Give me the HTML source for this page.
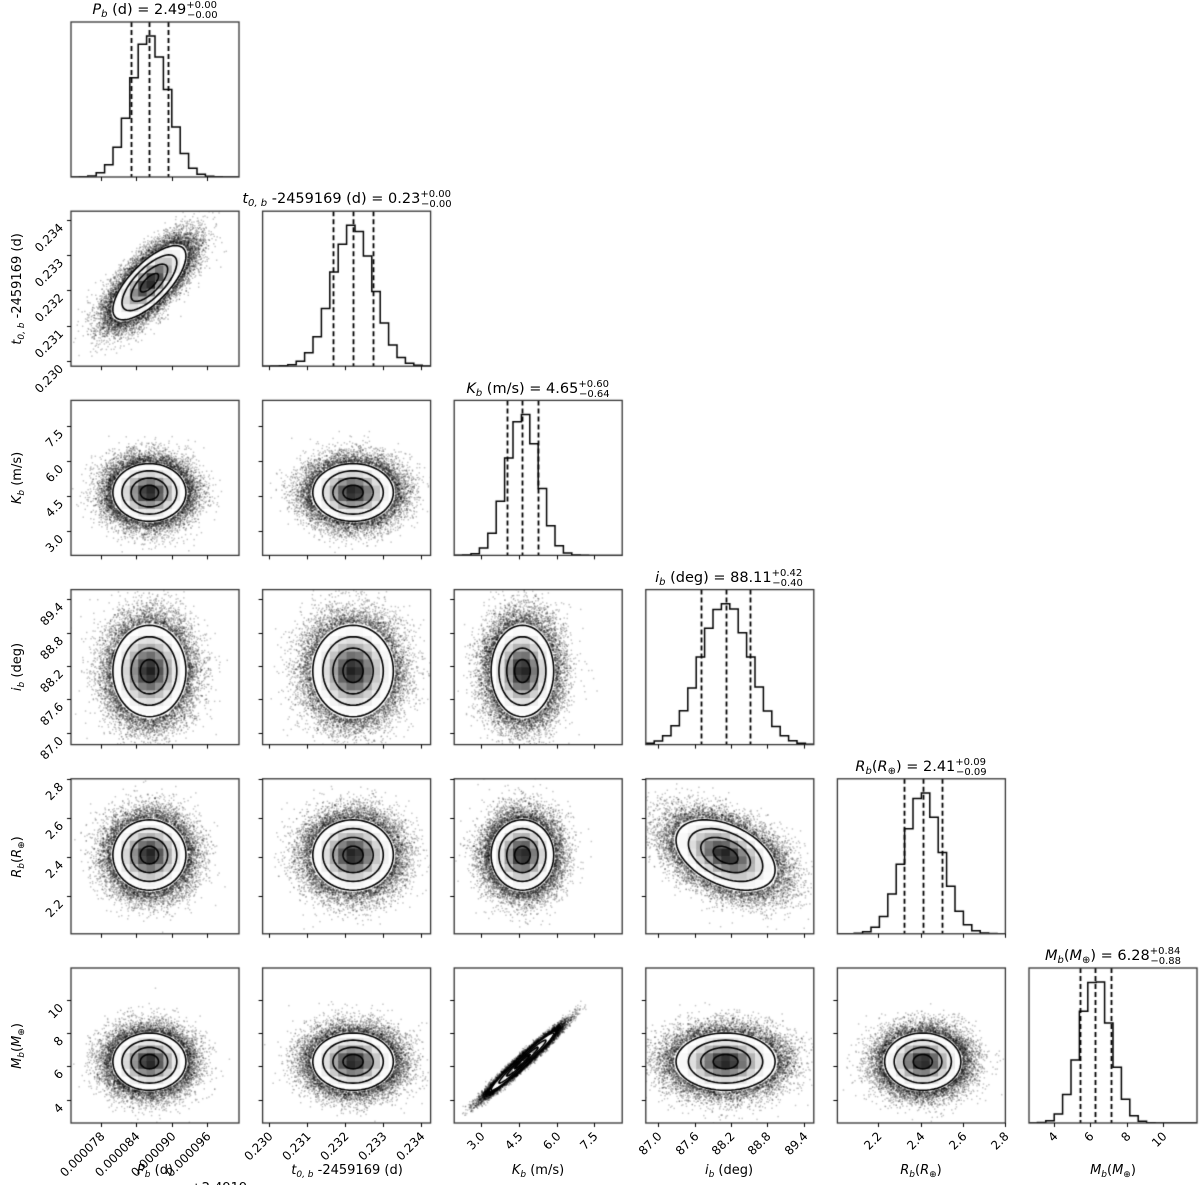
<!DOCTYPE html>
<html><head><meta charset="utf-8">
<style>
html,body{margin:0;padding:0;background:#fff;}
#wrap{position:relative;width:1200px;height:1185px;overflow:hidden;}
canvas,svg{position:absolute;left:0;top:0;}
svg text{font-family:"DejaVu Sans","Liberation Sans",sans-serif;fill:#000;}
</style></head><body>
<div id="wrap">
<canvas id="c" width="1200" height="1185"></canvas>
<svg id="s" width="1200" height="1185" xmlns="http://www.w3.org/2000/svg">
<g font-size="14.5" text-anchor="middle">
<text x="155" y="14"><tspan font-style="italic">P</tspan><tspan font-size="10" font-style="italic" dy="3">b</tspan><tspan dy="-3"> (d) = 2.49</tspan><tspan font-size="10" dy="-6">+0.00</tspan><tspan font-size="10" dx="-30" dy="10">−0.00</tspan></text>
<text x="347" y="203"><tspan font-style="italic">t</tspan><tspan font-size="10" font-style="italic" dy="3">0, b</tspan><tspan dy="-3"> -2459169 (d) = 0.23</tspan><tspan font-size="10" dy="-6">+0.00</tspan><tspan font-size="10" dx="-30" dy="10">−0.00</tspan></text>
<text x="538" y="393"><tspan font-style="italic">K</tspan><tspan font-size="10" font-style="italic" dy="3">b</tspan><tspan dy="-3"> (m/s) = 4.65</tspan><tspan font-size="10" dy="-6">+0.60</tspan><tspan font-size="10" dx="-30" dy="10">−0.64</tspan></text>
<text x="729" y="582"><tspan font-style="italic">i</tspan><tspan font-size="10" font-style="italic" dy="3">b</tspan><tspan dy="-3"> (deg) = 88.11</tspan><tspan font-size="10" dy="-6">+0.42</tspan><tspan font-size="10" dx="-30" dy="10">−0.40</tspan></text>
<text x="921" y="771"><tspan font-style="italic">R</tspan><tspan font-size="10" font-style="italic" dy="3">b</tspan><tspan dy="-3">(</tspan><tspan font-style="italic">R</tspan><tspan font-size="10" dy="3">⊕</tspan><tspan dy="-3">) = 2.41</tspan><tspan font-size="10" dy="-6">+0.09</tspan><tspan font-size="10" dx="-30" dy="10">−0.09</tspan></text>
<text x="1113" y="960"><tspan font-style="italic">M</tspan><tspan font-size="10" font-style="italic" dy="3">b</tspan><tspan dy="-3">(</tspan><tspan font-style="italic">M</tspan><tspan font-size="10" dy="3">⊕</tspan><tspan dy="-3">) = 6.28</tspan><tspan font-size="10" dy="-6">+0.84</tspan><tspan font-size="10" dx="-30" dy="10">−0.88</tspan></text>
</g>
<g font-size="13" text-anchor="middle">
<text x="155" y="1174"><tspan font-style="italic">P</tspan><tspan font-size="9" font-style="italic" dy="3">b</tspan><tspan dy="-3"> (d)</tspan></text>
<text x="219" y="1192">+2.4919</text>
<text x="347" y="1174"><tspan font-style="italic">t</tspan><tspan font-size="9" font-style="italic" dy="3">0, b</tspan><tspan dy="-3"> -2459169 (d)</tspan></text>
<text x="538" y="1174"><tspan font-style="italic">K</tspan><tspan font-size="9" font-style="italic" dy="3">b</tspan><tspan dy="-3"> (m/s)</tspan></text>
<text x="729" y="1174"><tspan font-style="italic">i</tspan><tspan font-size="9" font-style="italic" dy="3">b</tspan><tspan dy="-3"> (deg)</tspan></text>
<text x="921" y="1174"><tspan font-style="italic">R</tspan><tspan font-size="9" font-style="italic" dy="3">b</tspan><tspan dy="-3">(</tspan><tspan font-style="italic">R</tspan><tspan font-size="9" dy="3">⊕</tspan><tspan dy="-3">)</tspan></text>
<text x="1113" y="1174"><tspan font-style="italic">M</tspan><tspan font-size="9" font-style="italic" dy="3">b</tspan><tspan dy="-3">(</tspan><tspan font-style="italic">M</tspan><tspan font-size="9" dy="3">⊕</tspan><tspan dy="-3">)</tspan></text>
</g>
<g font-size="13" text-anchor="middle">
<text transform="translate(21,289) rotate(-90)"><tspan font-style="italic">t</tspan><tspan font-size="9" font-style="italic" dy="3">0, b</tspan><tspan dy="-3"> -2459169 (d)</tspan></text>
<text transform="translate(21,478) rotate(-90)"><tspan font-style="italic">K</tspan><tspan font-size="9" font-style="italic" dy="3">b</tspan><tspan dy="-3"> (m/s)</tspan></text>
<text transform="translate(21,667) rotate(-90)"><tspan font-style="italic">i</tspan><tspan font-size="9" font-style="italic" dy="3">b</tspan><tspan dy="-3"> (deg)</tspan></text>
<text transform="translate(21,857) rotate(-90)"><tspan font-style="italic">R</tspan><tspan font-size="9" font-style="italic" dy="3">b</tspan><tspan dy="-3">(</tspan><tspan font-style="italic">R</tspan><tspan font-size="9" dy="3">⊕</tspan><tspan dy="-3">)</tspan></text>
<text transform="translate(21,1046) rotate(-90)"><tspan font-style="italic">M</tspan><tspan font-size="9" font-style="italic" dy="3">b</tspan><tspan dy="-3">(</tspan><tspan font-style="italic">M</tspan><tspan font-size="9" dy="3">⊕</tspan><tspan dy="-3">)</tspan></text>
</g>
<g id="ticklabels" font-size="12"></g>
</svg>
</div>
<script>
(function(){
var W=168,H=155;
function cx(j){return 71+j*191.6;}
function ry(i){return 22+i*189.2;}
var P=[
 {lo:0.0000729,hi:0.0001014,m:0.0000862,s:0.0000031,t:[0.000078,0.000084,0.000090,0.000096],f:function(v){return v.toFixed(6);}},
 {lo:0.22984,hi:0.23426,m:0.23222,s:0.00053,t:[0.230,0.231,0.232,0.233,0.234],f:function(v){return v.toFixed(3);}},
 {lo:1.95,hi:8.6,m:4.65,s:0.62,t:[3.0,4.5,6.0,7.5],f:function(v){return v.toFixed(1);}},
 {lo:86.79,hi:89.57,m:88.11,s:0.41,t:[87.0,87.6,88.2,88.8,89.4],f:function(v){return v.toFixed(1);}},
 {lo:2.007,hi:2.80,m:2.41,s:0.09,t:[2.2,2.4,2.6,2.8],f:function(v){return v.toFixed(1);}},
 {lo:2.6,hi:11.9,m:6.28,s:0.86,t:[4,6,8,10],f:function(v){return String(v);}}
];
function corr(a,b){var k=a<b?a+'_'+b:b+'_'+a;return {'0_1':0.72,'2_5':0.975,'3_4':-0.42}[k]||0.0;}
var c=document.getElementById('c').getContext('2d');
c.fillStyle='#fff';c.fillRect(0,0,1200,1185);
var seed=12345;function rnd(){seed|=0;seed=seed+0x6D2B79F5|0;var t=Math.imul(seed^seed>>>15,1|seed);t=t+Math.imul(t^t>>>7,61|t)^t;return((t^t>>>14)>>>0)/4294967296;}
function gn(){var u=rnd()||1e-9,v=rnd();return Math.sqrt(-2*Math.log(u))*Math.cos(2*Math.PI*v);}
function erf(x){var s=x<0?-1:1;x=Math.abs(x);var t=1/(1+0.3275911*x);var y=1-(((((1.061405429*t-1.453152027)*t)+1.421413741)*t-0.284496736)*t+0.254829592)*t*Math.exp(-x*x);return s*y;}
function cdf(x){return 0.5*(1+erf(x/Math.SQRT2));}
var svgNS="http://www.w3.org/2000/svg",TL=document.getElementById('ticklabels');
function txt(x,y,s){var t=document.createElementNS(svgNS,'text');t.setAttribute('transform','translate('+x+','+y+') rotate(-45)');t.setAttribute('text-anchor','end');t.textContent=s;TL.appendChild(t);}
for(var i=0;i<6;i++){for(var j=0;j<=i;j++){
 var X0=cx(j),Y0=ry(i),px=P[j],py=P[i];
 function mx(v){return X0+(v-px.lo)/(px.hi-px.lo)*W;}
 function my(v){return Y0+H-(v-py.lo)/(py.hi-py.lo)*H;}
 c.save();c.beginPath();c.rect(X0,Y0,W,H);c.clip();
 if(i==j){
  var nb=20,bw=(px.hi-px.lo)/nb,cnt=[],mxc=0;
  for(var b=0;b<nb;b++){var a=px.lo+b*bw;var v=cdf((a+bw-px.m)/px.s)-cdf((a-px.m)/px.s);v*=1+0.06*(rnd()-0.5);cnt.push(v);if(v>mxc)mxc=v;}
  c.strokeStyle='#000';c.lineWidth=1.5;c.beginPath();c.moveTo(X0,Y0+H);
  for(var b=0;b<nb;b++){var yy=Y0+H-cnt[b]/(mxc*1.1)*H;c.lineTo(X0+b*W/nb,yy);c.lineTo(X0+(b+1)*W/nb,yy);}
  c.lineTo(X0+W,Y0+H);c.stroke();
  c.setLineDash([5,3]);c.lineWidth=1.8;
  [-1,0,1].forEach(function(k){var x=Math.round(mx(px.m+k*px.s))+0.5;c.beginPath();c.moveTo(x,Y0);c.lineTo(x,Y0+H);c.stroke();});
  c.setLineDash([]);
 } else {
  var rho=corr(i,j),sq=Math.sqrt(1-rho*rho);
  var sx=px.s/(px.hi-px.lo)*W, sy=py.s/(py.hi-py.lo)*H, ox=mx(px.m), oy=my(py.m);
  c.fillStyle='rgba(0,0,0,0.22)';
  var N=34000;
  for(var n=0;n<N;n++){var z1=gn(),z2=gn();var u=z1,w=rho*z1+sq*z2;var r2=(z1*z1+z2*z2);if(r2<4)continue;c.fillRect(ox+u*sx*1.05-0.7,oy-w*sy*1.05-0.7,1.5,1.5);}
  function ell(s){c.beginPath();for(var k=0;k<=64;k++){var t=k/64*2*Math.PI;var u=s*Math.cos(t),w=s*(rho*Math.cos(t)+sq*Math.sin(t));var x=ox+u*sx,y=oy-w*sy;if(k==0)c.moveTo(x,y);else c.lineTo(x,y);}c.closePath();}
  c.save();ell(2);c.clip();c.fillStyle='#fff';c.fillRect(X0,Y0,W,H);
  var bx=W/20,by=H/20;
  for(var a=0;a<20;a++)for(var b=0;b<20;b++){var x=X0+a*bx+bx/2,y=Y0+b*by+by/2;var u=(x-ox)/sx,w=(oy-y)/sy;var r2=(u*u-2*rho*u*w+w*w)/(1-rho*rho);var d=Math.exp(-r2/2);var g=Math.max(0,(d-0.135)/0.865);var gv=Math.round(255-225*Math.pow(g,1.6));c.fillStyle='rgb('+gv+','+gv+','+gv+')';c.fillRect(X0+a*bx,Y0+b*by,bx+0.6,by+0.6);}
  c.restore();
  c.strokeStyle='#000';c.lineWidth=1.6;[0.5,1,1.5,2].forEach(function(s){ell(s);c.stroke();});
 }
 c.restore();
 c.strokeStyle='#333';c.lineWidth=1.3;c.strokeRect(X0,Y0,W,H);
 c.strokeStyle='#000';c.lineWidth=1;
 px.t.forEach(function(v){var x=Math.round(mx(v))+0.5;c.beginPath();c.moveTo(x,Y0+H);c.lineTo(x,Y0+H+4);c.stroke();if(i==5)txt(x+4,Y0+H+14,px.f(v));});
 if(i!=j){py.t.forEach(function(v){var y=Math.round(my(v))+0.5;c.beginPath();c.moveTo(X0-4,y);c.lineTo(X0,y);c.stroke();if(j==0)txt(X0-7,y+8,py.f(v));});}
}}
})();
</script>
</body></html>
